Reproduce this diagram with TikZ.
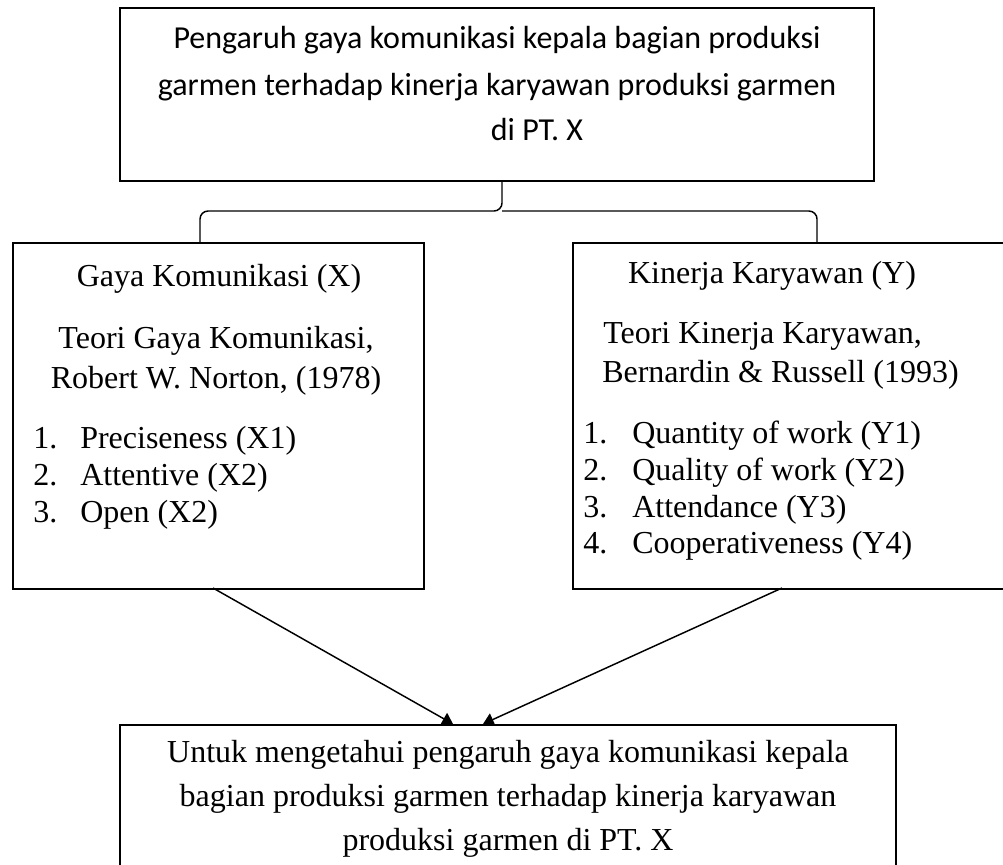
\documentclass[tikz,border=0pt]{standalone}
\usepackage{fontspec}
\setmainfont{Liberation Serif}
\newfontfamily\calibri{Carlito}
\usetikzlibrary{arrows.meta}
\begin{document}
\begin{tikzpicture}[x=0.75pt,y=-0.75pt,
  kotak/.style={draw,line width=1.6pt,inner sep=0pt,anchor=north west},
  teks/.style={inner sep=0pt,anchor=base,font=\fontsize{24}{28}\selectfont},
  teksk/.style={teks,anchor=base west},
  judul/.style={inner sep=0pt,anchor=base,font=\calibri\fontsize{24}{28}\selectfont},
  panah/.style={-{Triangle[length=8pt,width=10pt]},line width=1.1pt},
  kurung/.style={line width=1.1pt,rounded corners=6pt}]
\useasboundingbox (0,0) rectangle (1003,864);
\clip (0,0) rectangle (1003,864);
\node[kotak,minimum width=565.5pt,minimum height=129.75pt] (atas) at (119,7) {};
\node[kotak,minimum width=308.25pt,minimum height=259.5pt] (kiri) at (12,242) {};
\node[kotak,minimum width=336pt,minimum height=259.5pt] (kanan) at (572,242) {};
\node[kotak,minimum width=582pt,minimum height=132pt] (bawah) at (119,724) {};
\node[judul] (a1) at (497,48) {Pengaruh gaya komunikasi kepala bagian produksi};
\node[judul] (a2) at (497,95) {garmen terhadap kinerja karyawan produksi garmen};
\node[judul] (a3) at (537,140) {di PT. X};
\node[teks] (x0) at (219,286) {Gaya Komunikasi (X)};
\node[teks] (x1) at (216,348) {Teori Gaya Komunikasi,};
\node[teks] (x2) at (216,388) {Robert W. Norton, (1978)};
\foreach \n/\isi/\yy in {1/Preciseness (X1)/448,2/Attentive (X2)/485,3/Open (X2)/522}{
  \node[teksk] (xn\n) at (33,\yy) {\n.};
  \node[teksk] (xi\n) at (80,\yy) {\isi};
}
\node[teks] (y0) at (772,283) {Kinerja Karyawan (Y)};
\node[teksk] (y1) at (603,343) {Teori Kinerja Karyawan,};
\node[teksk] (y2) at (602,382) {Bernardin \& Russell (1993)};
\foreach \n/\isi/\yy in {1/Quantity of work (Y1)/443,2/Quality of work (Y2)/480,3/Attendance (Y3)/517,4/Cooperativeness (Y4)/553}{
  \node[teksk] (yn\n) at (583,\yy) {\n.};
  \node[teksk] (yi\n) at (632,\yy) {\isi};
}
\node[teks] (b1) at (508,762) {Untuk mengetahui pengaruh gaya komunikasi kepala};
\node[teks] (b2) at (508,806) {bagian produksi garmen terhadap kinerja karyawan};
\node[teks] (b3) at (508,850) {produksi garmen di PT. X};
\coordinate (kurA) at (200,242);
\coordinate (kurB) at (817,242);
\coordinate (kurT) at (502,211);
\draw[kurung] (kurA) |- (kurT) -- (kurT |- atas.south);
\draw[kurung] (kurB) |- (kurT);
\coordinate (kiriP) at (213,588);
\coordinate (kananP) at (782,588);
\coordinate (tuju1) at (453,724);
\coordinate (tuju2) at (483,724);
\draw[panah] (kiriP) -- (tuju1);
\draw[panah] (kananP) -- (tuju2);
\end{tikzpicture}
\end{document}
